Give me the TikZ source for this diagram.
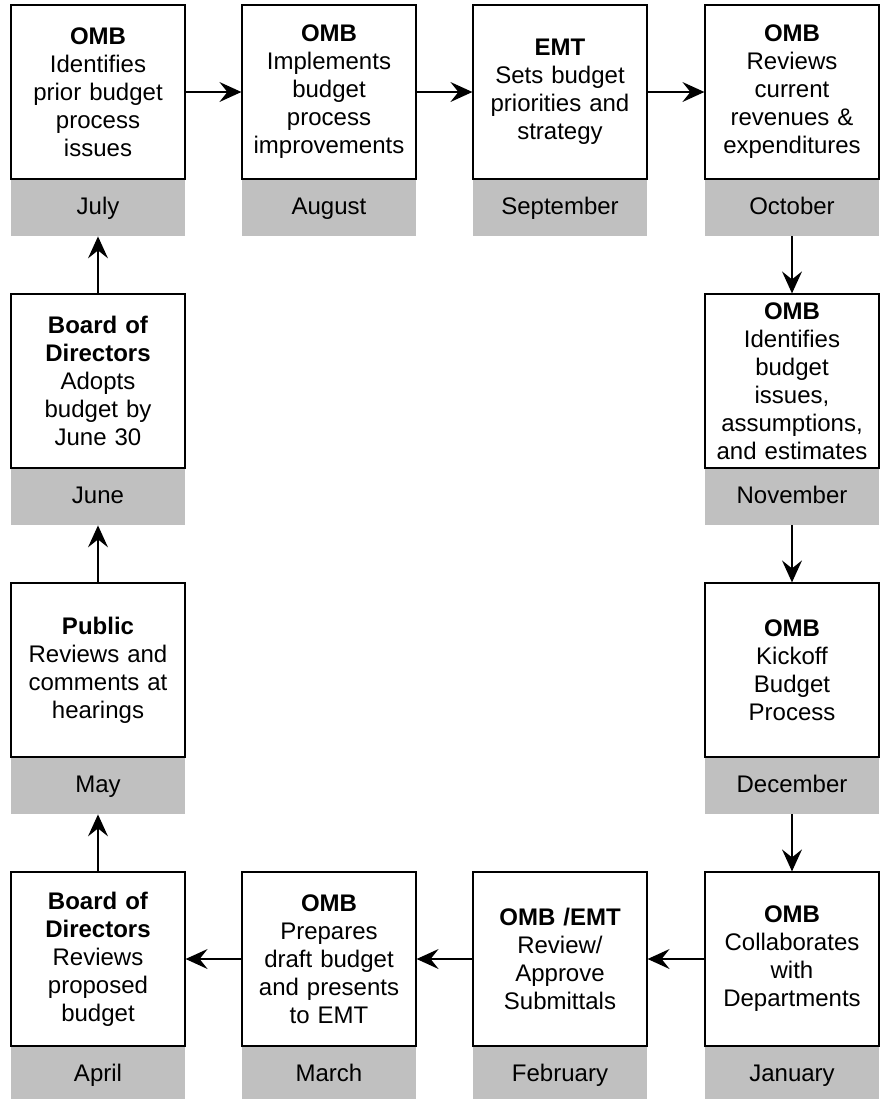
\documentclass[tikz,border=0pt]{standalone}
\usepackage{fontspec}
\setmainfont{Liberation Sans}
\definecolor{BandGray}{HTML}{C0C0C0}
\usetikzlibrary{arrows.meta, positioning}

\tikzset{
   task/.style={draw, line width=0.6pt, minimum width=87pt, minimum height=87pt,
      text width=84pt, inner xsep=1.5pt, inner ysep=0pt, align=center,
      font=\fontsize{12}{14}\selectfont},
   month/.style={fill=BandGray, minimum width=87pt, minimum height=28pt,
      inner sep=0pt, text height=8.6pt, text depth=2.6pt,
      font=\fontsize{12}{14}\selectfont},
   flow/.style={-{Stealth[length=11pt, width=10pt, inset=4pt]}, line width=0.7pt}
}

\begin{document}
\begin{tikzpicture}[x=0.5pt, y=-0.5pt]
            \useasboundingbox (0,0) rectangle (886,1099);
            % Top row: July to October
            \node[task] (jul) at (98,92) {\textbf{OMB}\\Identifies\\prior budget\\process\\issues};
            \node[task] (aug) at (329,92) {\textbf{OMB}\\Implements\\budget\\process\\improvements};
            \node[task] (sep) at (560,92) {\textbf{EMT}\\Sets budget\\priorities and\\strategy};
            \node[task] (oct) at (792,92) {\textbf{OMB}\\Reviews\\current\\revenues \&\\expenditures};
            % Right column: November, December
            \node[task] (nov) at (792,381) {\textbf{OMB}\\Identifies\\budget\\issues,\\assumptions,\\and estimates};
            \node[task] (dec) at (792,670) {\textbf{OMB}\\Kickoff\\Budget\\Process};
            % Bottom row: January to April
            \node[task] (jan) at (792,959) {\textbf{OMB}\\Collaborates\\with\\Departments};
            \node[task] (feb) at (560,959) {\textbf{OMB /EMT}\\Review/\\Approve\\Submittals};
            \node[task] (mar) at (329,959) {\textbf{OMB}\\Prepares\\draft budget\\and presents\\to EMT};
            \node[task] (apr) at (98,959) {\textbf{Board of}\\\textbf{Directors}\\Reviews\\proposed\\budget};
            % Left column: May, June
            \node[task] (may) at (98,670) {\textbf{Public}\\Reviews and\\comments at\\hearings};
            \node[task] (jun) at (98,381) {\textbf{Board of}\\\textbf{Directors}\\Adopts\\budget by\\June 30};
            % Month bands
            \node[month, below=0pt of jul] (julm) {July};
            \node[month, below=0pt of aug] (augm) {August};
            \node[month, below=0pt of sep] (sepm) {September};
            \node[month, below=0pt of oct] (octm) {October};
            \node[month, below=0pt of nov] (novm) {November};
            \node[month, below=0pt of dec] (decm) {December};
            \node[month, below=0pt of jan] (janm) {January};
            \node[month, below=0pt of feb] (febm) {February};
            \node[month, below=0pt of mar] (marm) {March};
            \node[month, below=0pt of apr] (aprm) {April};
            \node[month, below=0pt of may] (maym) {May};
            \node[month, below=0pt of jun] (junm) {June};
            % Arrows
            \draw[flow] (jul) -- (aug);
            \draw[flow] (aug) -- (sep);
            \draw[flow] (sep) -- (oct);
            \draw[flow] (octm) -- (nov);
            \draw[flow] (novm) -- (dec);
            \draw[flow] (decm) -- (jan);
            \draw[flow] (jan) -- (feb);
            \draw[flow] (feb) -- (mar);
            \draw[flow] (mar) -- (apr);
            \draw[flow] (apr) -- (maym);
            \draw[flow] (may) -- (junm);
            \draw[flow] (jun) -- (julm);
         \end{tikzpicture}
\end{document}
